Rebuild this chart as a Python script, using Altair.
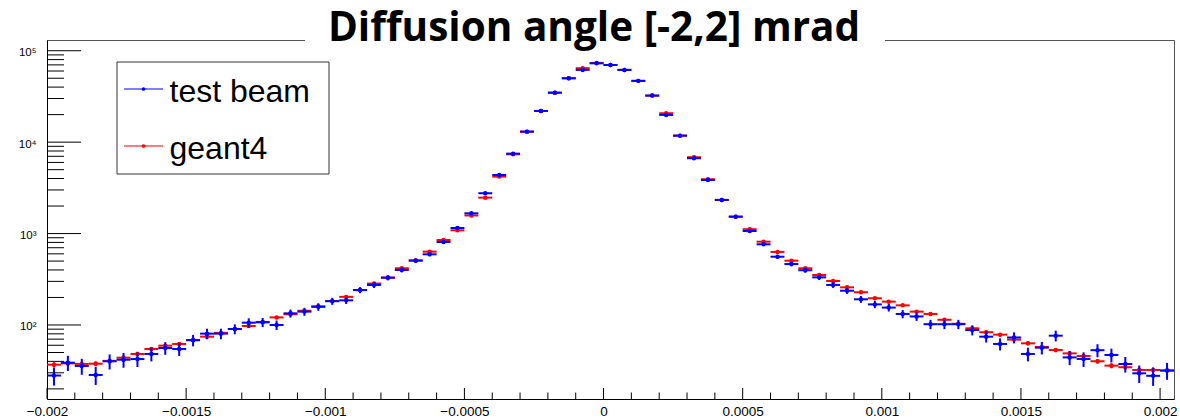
import altair as alt
import pandas as pd

# ---- chart values -------------------------------------------------------
TITLE = "Diffusion angle [-2,2] mrad"
SERIES = ["test beam", "geant4"]
COLORS = {"test beam": "#0000ff", "geant4": "#ff0000"}

# histogram binning (81 bins of 50 urad starting at -2 mrad)
X_MIN, X_MAX = -0.002, 0.00205
BIN_WIDTH = 0.00005
N_BINS = 81

TEST_BEAM = [
    28, 38.7, 35.6, 28.4, 40.1, 41.7, 42.4, 48.2, 56, 54.6,
    68.1, 80.4, 80.4, 90.4, 106, 107, 100, 134, 140, 158,
    182, 186, 241, 274, 329, 400, 505, 593, 809, 1150,
    1665, 2761, 4375, 7484, 13030, 21940, 34760, 49960, 61700, 72800,
    69800, 61700, 46800, 32300, 19850, 11780, 6670, 3855, 2333, 1530,
    1067, 763, 558, 464, 397, 332, 274, 237, 191, 168,
    155, 132, 124, 102, 102, 102, 88, 74.5, 62, 73,
    48.2, 56.5, 76.4, 44.2, 42.5, 53, 47, 37.4, 29.6, 27.8,
    31.8,
]

GEANT4 = [
    36.8, 38, 37.5, 37.7, 40.5, 43.9, 48.2, 54.6, 59.4, 62,
    68.5, 74.5, 82, 90.4, 97.5, 108, 121, 131, 143, 160,
    183, 203, 241, 284, 330, 417, 510, 634, 850, 1085,
    1578, 2471, 4198, 7365, 13030, 21940, 34760, 49960, 64400, 73500,
    69800, 61700, 46800, 32300, 20700, 11780, 6840, 3925, 2333, 1530,
    1115, 815, 630, 505, 417, 352, 303, 258, 228, 196,
    180, 164, 140, 132, 114, 103, 92, 83.3, 78.4, 69.2,
    63, 57.5, 53.2, 48.9, 45.8, 40.1, 35.9, 34.5, 32.2, 32.2,
    31.7,
]

# per-entry weight of each histogram (Poisson error = sqrt(weight * content))
WEIGHTS = {"test beam": 1.4, "geant4": 0.15}

# axis ticks
X_MAJOR = [-0.002, -0.0015, -0.001, -0.0005, 0.0, 0.0005, 0.001, 0.0015, 0.002]
X_MINOR = [round(-0.002 + 0.0001 * i, 4) for i in range(41) if i % 5 != 0]
Y_MAJOR = [1e2, 1e3, 1e4, 1e5]
Y_MINOR = [m * 10 ** e for e in range(1, 5) for m in range(2, 10)]
Y_MIN, Y_MAX = 15.5, 1.31e5

# ---- layout --------------------------------------------------------------
W, H = 1127, 359

x_scale = alt.Scale(domain=[X_MIN, X_MAX], nice=False, zero=False)
y_scale = alt.Scale(type="log", domain=[Y_MIN, Y_MAX], nice=False)

# the same axis definition is given to every layer so that they merge
x_axis = alt.Axis(
    values=X_MAJOR, format="~g", ticks=False, grid=False, title=None,
    domainColor="black", domainWidth=1, labelColor="black",
    labelFont="Liberation Sans", labelFontSize=13.5, labelPadding=5,
    labelFlush=False,
)
y_axis = alt.Axis(
    values=Y_MAJOR, ticks=False, grid=False, title=None,
    labelExpr="'10' + ['\u2070','\u00b9','\u00b2','\u00b3','\u2074','\u2075'][round(log(datum.value)/LN10)]",
    domainColor="black", domainWidth=1, labelColor="black",
    labelFont="Liberation Sans", labelFontSize=11.5, labelPadding=11,
    labelBaseline="middle", labelOffset=2, labelFlush=False,
)


def X(field):
    return alt.X(field, scale=x_scale, axis=x_axis)


def Y(field):
    return alt.Y(field, scale=y_scale, axis=y_axis)


def histogram_frame(name, values):
    w = WEIGHTS[name]
    rows = []
    for k, v in enumerate(values):
        lo = X_MIN + k * BIN_WIDTH
        err = (w * v) ** 0.5
        rows.append({
            "series": name,
            "lo": lo,
            "hi": lo + BIN_WIDTH,
            "center": lo + BIN_WIDTH / 2,
            "value": v,
            "err_lo": v - err,
            "err_hi": v + err,
        })
    return pd.DataFrame(rows)


layers = []
# geant4 underneath, test beam on top
for name, vals in [("geant4", GEANT4), ("test beam", TEST_BEAM)]:
    df = histogram_frame(name, vals)
    col = COLORS[name]
    base = alt.Chart(df)
    hbar = base.mark_rule(color=col, strokeWidth=2).encode(
        x=X("lo:Q"), x2="hi:Q", y=Y("value:Q"),
    )
    vbar = base.mark_rule(color=col, strokeWidth=2).encode(
        x=X("center:Q"), y=Y("err_lo:Q"), y2="err_hi:Q",
    )
    dots = base.mark_point(
        color=col, filled=True, opacity=1, shape="circle", size=20
    ).encode(x=X("center:Q"), y=Y("value:Q"))
    layers += [hbar, vbar, dots]


# inward tick marks, ROOT style
def x_ticks(values, length):
    return alt.Chart(pd.DataFrame({"v": values})).mark_rule(
        color="black", strokeWidth=1
    ).encode(x=X("v:Q"), y=alt.value(H), y2=alt.value(H - length))


def y_ticks(values, length):
    return alt.Chart(pd.DataFrame({"v": values})).mark_rule(
        color="black", strokeWidth=1
    ).encode(y=Y("v:Q"), x=alt.value(0), x2=alt.value(length))


layers += [x_ticks(X_MAJOR, 11), x_ticks(X_MINOR, 6.5),
           y_ticks(Y_MAJOR, 34), y_ticks(Y_MINOR, 17)]

# legend box
one = pd.DataFrame({"k": [0]})
layers.append(
    alt.Chart(one).mark_rect(fill="white", stroke="#333", strokeWidth=1).encode(
        x=alt.value(70), x2=alt.value(282), y=alt.value(22), y2=alt.value(134)
    )
)
for i, name in enumerate(SERIES):
    ly = 49 + 57 * i
    col = COLORS[name]
    lab = pd.DataFrame({"label": [name]})
    layers.append(
        alt.Chart(lab).mark_rule(color=col, strokeWidth=1.2).encode(
            x=alt.value(77), x2=alt.value(116), y=alt.value(ly)
        )
    )
    layers.append(
        alt.Chart(lab).mark_point(color=col, filled=True, opacity=1, size=14).encode(
            x=alt.value(96.5), y=alt.value(ly)
        )
    )
    layers.append(
        alt.Chart(lab).mark_text(
            align="left", baseline="alphabetic", font="Liberation Sans",
            fontSize=32, color="black"
        ).encode(x=alt.value(122.5), y=alt.value(ly + 12.5), text="label:N")
    )

# title sitting on the top edge of the frame
title_df = pd.DataFrame({"t": [TITLE]})
layers.append(
    alt.Chart(title_df).mark_rect(fill="white").encode(
        x=alt.value(258), x2=alt.value(838), y=alt.value(-40), y2=alt.value(2)
    )
)
layers.append(
    alt.Chart(title_df).mark_text(
        align="center", baseline="alphabetic", font="Open Sans",
        fontWeight="bold", fontSize=40.5, color="black"
    ).encode(x=alt.value(547), y=alt.value(0.5), text="t:N")
)

chart = alt.layer(*layers).properties(
    width=W,
    height=H,
    autosize=alt.AutoSizeParams(type="none"),
    padding={"left": 47, "top": 40, "right": 6, "bottom": 21},
    background="white",
).configure_view(stroke="#555", strokeWidth=1)

chart.save("out.html", embed_options={"renderer": "svg", "actions": False})
